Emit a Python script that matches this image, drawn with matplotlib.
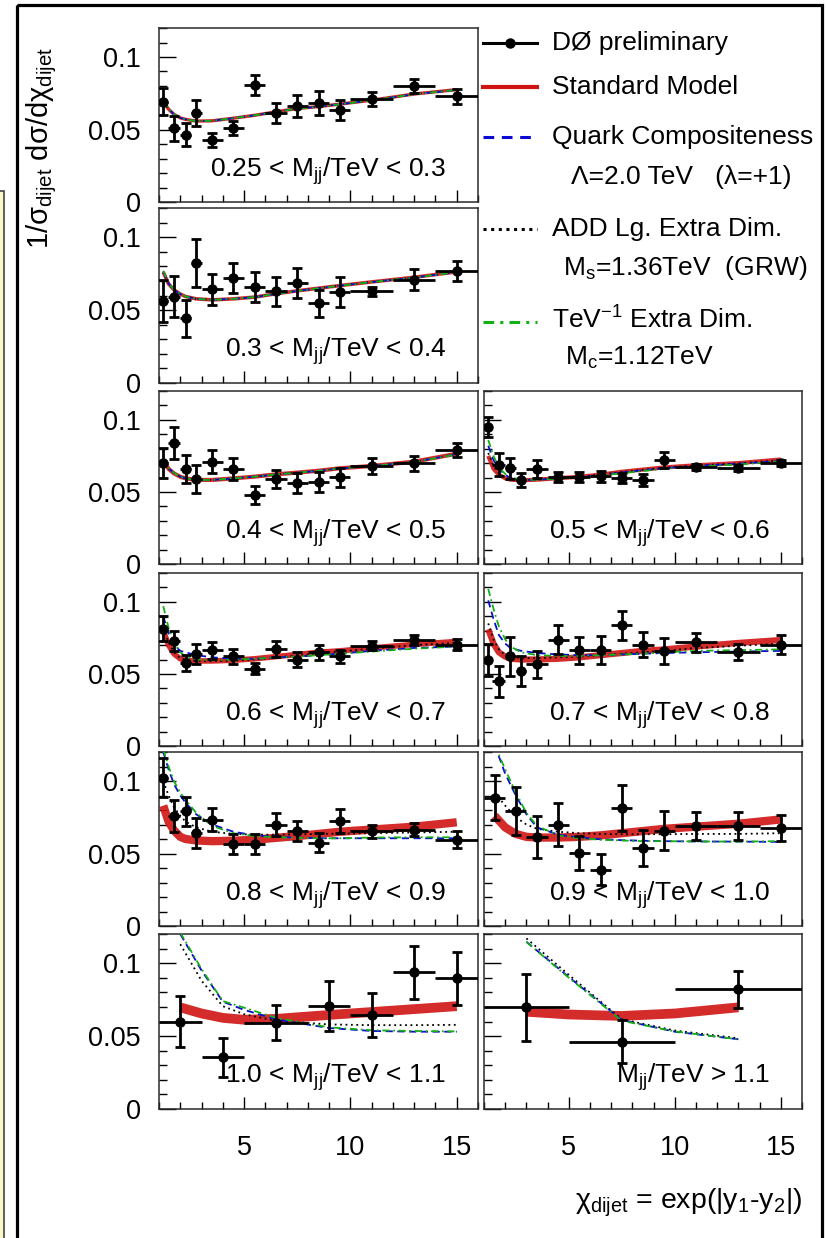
import matplotlib
matplotlib.use("Agg")
import matplotlib.pyplot as plt
from matplotlib.patches import Rectangle
from matplotlib.ticker import MultipleLocator, FixedLocator

plt.rcParams['font.family'] = ['Liberation Sans', 'DejaVu Sans']
plt.rcParams['mathtext.fontset'] = 'custom'
plt.rcParams['mathtext.rm'] = 'Liberation Sans'
plt.rcParams['mathtext.it'] = 'Liberation Sans:italic'
plt.rcParams['mathtext.bf'] = 'Liberation Sans:bold'
plt.rcParams['mathtext.default'] = 'regular'

FS_TICK = 19.5
FS_TEXT = 19

# ---- mass bins (one panel each, left column then right column, row by row)
MASS_LABELS = [
    "0.25 < M$_{jj}$/TeV < 0.3",
    "0.3 < M$_{jj}$/TeV < 0.4",
    "0.4 < M$_{jj}$/TeV < 0.5",
    "0.5 < M$_{jj}$/TeV < 0.6",
    "0.6 < M$_{jj}$/TeV < 0.7",
    "0.7 < M$_{jj}$/TeV < 0.8",
    "0.8 < M$_{jj}$/TeV < 0.9",
    "0.9 < M$_{jj}$/TeV < 1.0",
    "1.0 < M$_{jj}$/TeV < 1.1",
    "M$_{jj}$/TeV > 1.1",
]

# ---- chi_dijet bin edges
EDGES_FINE = [1, 1.4, 2, 2.5, 3, 4, 5, 6, 7, 8, 9, 10, 12, 14, 16]
EDGES_UNIT = [1, 2, 3, 4, 5, 6, 7, 8, 9, 10, 12, 14, 16]
EDGES_WIDE = [1, 3, 5, 8, 10, 12, 14, 16]
EDGES_LAST = [1, 5, 10, 16]

# ---- measured 1/sigma dsigma/dchi and its errors
DATA_Y = [
    [0.0693, 0.0509, 0.0463, 0.0613, 0.0429, 0.0509, 0.0809, 0.0613, 0.0663, 0.0682, 0.0636, 0.0710, 0.0802, 0.0728],
    [0.0559, 0.0593, 0.0444, 0.0823, 0.0644, 0.0720, 0.0658, 0.0628, 0.0686, 0.0548, 0.0621, 0.0628, 0.0708, 0.0770],
    [0.0703, 0.0841, 0.0657, 0.0588, 0.0710, 0.0657, 0.0479, 0.0588, 0.0560, 0.0571, 0.0601, 0.0680, 0.0698, 0.0790],
    [0.0952, 0.0687, 0.0663, 0.0583, 0.0657, 0.0601, 0.0601, 0.0610, 0.0594, 0.0583, 0.0721, 0.0671, 0.0664, 0.0703],
    [0.0813, 0.0727, 0.0575, 0.0640, 0.0663, 0.0621, 0.0536, 0.0674, 0.0598, 0.0651, 0.0621, 0.0697, 0.0737, 0.0704],
    [0.0598, 0.0450, 0.0621, 0.0520, 0.0566, 0.0737, 0.0663, 0.0667, 0.0836, 0.0704, 0.0658, 0.0720, 0.0651, 0.0704],
    [0.1023, 0.0757, 0.0792, 0.0642, 0.0734, 0.0566, 0.0566, 0.0700, 0.0658, 0.0573, 0.0723, 0.0654, 0.0665, 0.0596],
    [0.0885, 0.0792, 0.0612, 0.0700, 0.0503, 0.0388, 0.0815, 0.0538, 0.0658, 0.0688, 0.0688, 0.0676],
    [0.0599, 0.0354, 0.0592, 0.0706, 0.0645, 0.0937, 0.0896],
    [0.0697, 0.0462, 0.0821],
]
DATA_ERR = [
    [0.0096, 0.0086, 0.0080, 0.0088, 0.0050, 0.0050, 0.0070, 0.0070, 0.0077, 0.0084, 0.0070, 0.0050, 0.0048, 0.0054],
    [0.0144, 0.0142, 0.0126, 0.0167, 0.0106, 0.0101, 0.0103, 0.0100, 0.0103, 0.0092, 0.0103, 0.0030, 0.0072, 0.0070],
    [0.0104, 0.0110, 0.0098, 0.0096, 0.0078, 0.0075, 0.0060, 0.0063, 0.0070, 0.0070, 0.0067, 0.0058, 0.0052, 0.0050],
    [0.0070, 0.0080, 0.0073, 0.0050, 0.0063, 0.0035, 0.0035, 0.0038, 0.0035, 0.0040, 0.0058, 0.0020, 0.0020, 0.0020],
    [0.0087, 0.0070, 0.0058, 0.0069, 0.0060, 0.0053, 0.0040, 0.0054, 0.0052, 0.0052, 0.0048, 0.0030, 0.0035, 0.0040],
    [0.0110, 0.0107, 0.0135, 0.0104, 0.0092, 0.0100, 0.0096, 0.0095, 0.0098, 0.0089, 0.0090, 0.0067, 0.0055, 0.0069],
    [0.0133, 0.0112, 0.0100, 0.0106, 0.0081, 0.0067, 0.0066, 0.0081, 0.0069, 0.0066, 0.0081, 0.0046, 0.0046, 0.0060],
    [0.0154, 0.0164, 0.0145, 0.0147, 0.0115, 0.0107, 0.0157, 0.0127, 0.0135, 0.0098, 0.0098, 0.0092],
    [0.0177, 0.0134, 0.0122, 0.0169, 0.0151, 0.0180, 0.0180],
    [0.0229, 0.0146, 0.0126],
]

# ---- theory curves: chi nodes and predictions
CHI_FINE = [1.2, 1.45, 1.7, 2.0, 2.25, 2.75, 3.5, 4.5, 5.5, 6.5, 7.5, 8.5, 9.5, 11, 13, 15]
CHI_UNIT = [1.5, 2.0, 2.5, 3.0, 3.5, 4.5, 5.5, 6.5, 7.5, 8.5, 9.5, 11, 13, 15]
CHI_WIDE = [2, 3, 4, 5, 6.5, 9, 11, 13, 15]
CHI_LAST = [3, 5, 7.5, 10, 13]

SM = [
    [0.0690, 0.0640, 0.0605, 0.0580, 0.0570, 0.0558, 0.0560, 0.0578, 0.0598, 0.0622, 0.0645, 0.0658, 0.0675, 0.0702, 0.0745, 0.0775],
    [0.0760, 0.0680, 0.0639, 0.0610, 0.0593, 0.0577, 0.0570, 0.0577, 0.0589, 0.0612, 0.0632, 0.0650, 0.0668, 0.0693, 0.0725, 0.0762],
    [0.0725, 0.0660, 0.0629, 0.0605, 0.0594, 0.0583, 0.0583, 0.0594, 0.0606, 0.0622, 0.0634, 0.0647, 0.0664, 0.0680, 0.0710, 0.0765],
    [0.0750, 0.0660, 0.0620, 0.0595, 0.0585, 0.0580, 0.0585, 0.0595, 0.0605, 0.0620, 0.0640, 0.0655, 0.0670, 0.0685, 0.0700, 0.0725],
    [0.0800, 0.0700, 0.0640, 0.0605, 0.0595, 0.0590, 0.0590, 0.0595, 0.0605, 0.0620, 0.0635, 0.0650, 0.0660, 0.0680, 0.0705, 0.0725],
    [0.0810, 0.0710, 0.0650, 0.0620, 0.0605, 0.0600, 0.0600, 0.0605, 0.0615, 0.0630, 0.0645, 0.0660, 0.0670, 0.0690, 0.0715, 0.0735],
    [0.0830, 0.0720, 0.0660, 0.0615, 0.0600, 0.0590, 0.0585, 0.0588, 0.0595, 0.0608, 0.0620, 0.0635, 0.0650, 0.0665, 0.0685, 0.0715],
    [0.0760, 0.0680, 0.0635, 0.0615, 0.0610, 0.0610, 0.0615, 0.0625, 0.0640, 0.0655, 0.0670, 0.0685, 0.0705, 0.0735],
    [0.0697, 0.0655, 0.0625, 0.0612, 0.0618, 0.0645, 0.0665, 0.0685, 0.0705],
    [0.0667, 0.0648, 0.0638, 0.0655, 0.0697],
]
QC = [
    [0.0692, 0.0642, 0.0606, 0.0580, 0.0570, 0.0558, 0.0560, 0.0578, 0.0598, 0.0622, 0.0644, 0.0657, 0.0674, 0.0701, 0.0743, 0.0773],
    [0.0765, 0.0682, 0.0640, 0.0610, 0.0593, 0.0577, 0.0570, 0.0577, 0.0589, 0.0611, 0.0631, 0.0649, 0.0667, 0.0692, 0.0723, 0.0760],
    [0.0730, 0.0664, 0.0631, 0.0606, 0.0594, 0.0583, 0.0583, 0.0594, 0.0606, 0.0621, 0.0633, 0.0646, 0.0663, 0.0679, 0.0708, 0.0762],
    [0.0820, 0.0720, 0.0660, 0.0620, 0.0595, 0.0583, 0.0585, 0.0593, 0.0603, 0.0617, 0.0635, 0.0650, 0.0665, 0.0680, 0.0695, 0.0715],
    [0.0900, 0.0780, 0.0700, 0.0660, 0.0650, 0.0630, 0.0615, 0.0605, 0.0605, 0.0615, 0.0620, 0.0630, 0.0640, 0.0660, 0.0680, 0.0690],
    [0.1010, 0.0880, 0.0770, 0.0710, 0.0680, 0.0660, 0.0645, 0.0635, 0.0630, 0.0630, 0.0635, 0.0640, 0.0645, 0.0650, 0.0655, 0.0660],
    [0.1200, 0.1080, 0.0980, 0.0900, 0.0850, 0.0770, 0.0700, 0.0650, 0.0625, 0.0615, 0.0610, 0.0605, 0.0605, 0.0605, 0.0605, 0.0605],
    [0.1250, 0.1050, 0.0900, 0.0770, 0.0680, 0.0630, 0.0610, 0.0598, 0.0592, 0.0588, 0.0585, 0.0583, 0.0582, 0.0580],
    [0.1200, 0.0950, 0.0736, 0.0680, 0.0615, 0.0555, 0.0535, 0.0530, 0.0530],
    [0.1147, 0.0905, 0.0610, 0.0530, 0.0478],
]
ADD = [
    [0.0691, 0.0641, 0.0605, 0.0580, 0.0570, 0.0558, 0.0560, 0.0578, 0.0598, 0.0622, 0.0645, 0.0658, 0.0675, 0.0702, 0.0744, 0.0774],
    [0.0762, 0.0681, 0.0639, 0.0610, 0.0593, 0.0577, 0.0570, 0.0577, 0.0589, 0.0612, 0.0632, 0.0650, 0.0668, 0.0693, 0.0724, 0.0761],
    [0.0727, 0.0662, 0.0630, 0.0605, 0.0594, 0.0583, 0.0583, 0.0594, 0.0606, 0.0622, 0.0634, 0.0647, 0.0664, 0.0680, 0.0709, 0.0763],
    [0.0770, 0.0680, 0.0630, 0.0600, 0.0590, 0.0582, 0.0585, 0.0595, 0.0605, 0.0620, 0.0638, 0.0653, 0.0668, 0.0683, 0.0698, 0.0720],
    [0.0820, 0.0720, 0.0650, 0.0610, 0.0598, 0.0590, 0.0588, 0.0592, 0.0600, 0.0613, 0.0628, 0.0642, 0.0655, 0.0675, 0.0700, 0.0715],
    [0.0850, 0.0740, 0.0670, 0.0630, 0.0620, 0.0610, 0.0610, 0.0615, 0.0620, 0.0630, 0.0640, 0.0650, 0.0660, 0.0680, 0.0695, 0.0710],
    [0.1000, 0.0900, 0.0820, 0.0760, 0.0720, 0.0680, 0.0650, 0.0635, 0.0630, 0.0630, 0.0632, 0.0635, 0.0637, 0.0640, 0.0645, 0.0650],
    [0.0920, 0.0830, 0.0750, 0.0700, 0.0670, 0.0650, 0.0640, 0.0635, 0.0633, 0.0633, 0.0633, 0.0635, 0.0635, 0.0640],
    [0.1130, 0.0880, 0.0705, 0.0650, 0.0605, 0.0580, 0.0575, 0.0575, 0.0577],
    [0.1170, 0.0920, 0.0615, 0.0538, 0.0485],
]
TEV = [
    [0.0695, 0.0643, 0.0606, 0.0580, 0.0570, 0.0558, 0.0560, 0.0578, 0.0598, 0.0621, 0.0644, 0.0657, 0.0674, 0.0701, 0.0743, 0.0773],
    [0.0770, 0.0684, 0.0641, 0.0611, 0.0593, 0.0577, 0.0570, 0.0577, 0.0589, 0.0611, 0.0631, 0.0649, 0.0667, 0.0692, 0.0723, 0.0760],
    [0.0735, 0.0667, 0.0632, 0.0606, 0.0594, 0.0583, 0.0583, 0.0594, 0.0606, 0.0621, 0.0633, 0.0646, 0.0663, 0.0679, 0.0708, 0.0760],
    [0.0860, 0.0750, 0.0670, 0.0625, 0.0600, 0.0585, 0.0585, 0.0592, 0.0600, 0.0613, 0.0630, 0.0645, 0.0660, 0.0675, 0.0690, 0.0710],
    [0.0970, 0.0820, 0.0720, 0.0650, 0.0620, 0.0600, 0.0595, 0.0600, 0.0605, 0.0615, 0.0620, 0.0630, 0.0640, 0.0655, 0.0675, 0.0690],
    [0.1090, 0.0950, 0.0830, 0.0740, 0.0690, 0.0650, 0.0630, 0.0625, 0.0625, 0.0630, 0.0635, 0.0640, 0.0650, 0.0660, 0.0665, 0.0670],
    [0.1220, 0.1100, 0.1000, 0.0920, 0.0870, 0.0780, 0.0690, 0.0640, 0.0620, 0.0612, 0.0608, 0.0605, 0.0605, 0.0610, 0.0612, 0.0612],
    [0.1250, 0.1080, 0.0920, 0.0780, 0.0690, 0.0625, 0.0605, 0.0595, 0.0590, 0.0585, 0.0585, 0.0583, 0.0582, 0.0585],
    [0.1210, 0.0960, 0.0740, 0.0695, 0.0625, 0.0560, 0.0540, 0.0535, 0.0532],
    [0.1145, 0.0900, 0.0605, 0.0532, 0.0478],
]

PANEL_EDGES = [EDGES_FINE] * 7 + [EDGES_UNIT, EDGES_WIDE, EDGES_LAST]
PANEL_CHI = [CHI_FINE] * 7 + [CHI_UNIT, CHI_WIDE, CHI_LAST]

# panel boxes in pixels: (left, top, right, bottom)
COL_X = {0: (159, 478), 1: (484, 802)}
ROW_Y = [(28, 202), (208, 383), (391, 564), (573, 746), (752, 926), (934, 1109)]
PANEL_POS = [(0, 0), (1, 0), (2, 0), (2, 1), (3, 0), (3, 1), (4, 0), (4, 1), (5, 0), (5, 1)]
SM_WIDTH = [2.4, 2.6, 3.0, 3.0, 4.0, 4.5, 6.0, 6.0, 7.0, 7.0]

W, H = 827, 1238
RED = '#d01414'
BLUE = '#0a0ad2'
GREEN = '#12b012'

fig = plt.figure(figsize=(W / 100, H / 100), dpi=100)

# page decorations + legend live on a full-figure pixel axes
ov = fig.add_axes([0, 0, 1, 1])
ov.set_xlim(0, W)
ov.set_ylim(H, 0)
ov.axis('off')
ov.add_patch(Rectangle((-20, 191), 23.5, 1100, facecolor='#fbf8c8', edgecolor='#444444',
                       lw=1.2, clip_on=False))
ov.add_patch(Rectangle((17, 5), 805, 1260, fill=False, edgecolor='black', lw=2.3, clip_on=False))

for i, label in enumerate(MASS_LABELS):
    row, col = PANEL_POS[i]
    x0, x1 = COL_X[col]
    y0, y1 = ROW_Y[row]
    ax = fig.add_axes([x0 / W, 1 - y1 / H, (x1 - x0) / W, (y1 - y0) / H])

    edges = PANEL_EDGES[i]
    centers = [(a + b) / 2 for a, b in zip(edges[:-1], edges[1:])]
    halfw = [(b - a) / 2 for a, b in zip(edges[:-1], edges[1:])]
    chi = PANEL_CHI[i]

    ax.plot(chi, SM[i], color=RED, lw=SM_WIDTH[i], alpha=0.9, solid_capstyle='butt', zorder=2)
    ax.plot(chi, ADD[i], color='black', lw=1.3, ls=(0, (1, 2)), zorder=3)
    ax.plot(chi, QC[i], color=BLUE, lw=1.3, ls=(0, (4, 2.5)), zorder=3)
    ax.plot(chi, TEV[i], color=GREEN, lw=1.3, ls=(0, (4, 2, 1, 2)), zorder=3)

    ax.errorbar(centers, DATA_Y[i], xerr=halfw, fmt='none', ecolor='black',
                elinewidth=2.0, capsize=0, zorder=4)
    ax.errorbar(centers, DATA_Y[i], yerr=DATA_ERR[i], fmt='o', color='black', ms=6.5,
                elinewidth=2.0, capsize=3.8, capthick=2.0, zorder=5)

    ax.text(0.9, 0.18, label, transform=ax.transAxes, ha='right', va='center', fontsize=FS_TEXT)

    ax.set_xlim(1, 16)
    ax.set_ylim(0, 0.12)
    ax.xaxis.set_major_locator(FixedLocator([5, 10, 15]))
    ax.xaxis.set_minor_locator(MultipleLocator(1))
    ax.yaxis.set_major_locator(FixedLocator([0, 0.05, 0.1]))
    ax.yaxis.set_minor_locator(MultipleLocator(0.01))
    ax.tick_params(axis='y', which='major', direction='in', length=12, width=1.0,
                   pad=13, labelsize=FS_TICK, right=False)
    ax.tick_params(axis='y', which='minor', direction='in', length=6, width=1.0, right=False)
    ax.tick_params(axis='x', which='major', direction='in', length=9, width=1.0,
                   pad=19, labelsize=FS_TICK, top=False)
    ax.tick_params(axis='x', which='minor', direction='in', length=5, width=1.0, top=False)
    for sp in ax.spines.values():
        sp.set_linewidth(1.1)
        sp.set_color('#2a2a2a')

    if col == 0:
        ax.set_yticklabels(['0', '0.05', '0.1'])
    else:
        ax.set_yticklabels([])
    if row == 5:
        ax.set_xticklabels(['5', '10', '15'])
    else:
        ax.set_xticklabels([])

# axis titles
fig.text(42 / W, 1 - 148 / H, "1/σ$_{dijet}$ dσ/dχ$_{dijet}$", rotation=90,
         ha='center', va='center', fontsize=21)
fig.text(802 / W, 1 - 1203 / H, "χ$_{dijet}$ = exp(|y$_{1}$-y$_{2}$|)",
         ha='right', va='center', fontsize=20.5)

# legend keys and entries
KEY_X = [483, 537]
ov.plot(KEY_X, [43, 43], color='black', lw=2.2)
ov.plot([510], [43], 'o', color='black', ms=6.5)
ov.plot(KEY_X, [87, 87], color=RED, lw=3)
ov.plot(KEY_X, [137, 137], color=BLUE, lw=2.2, ls=(0, (3.5, 2.5)))
ov.plot(KEY_X, [229, 229], color='black', lw=2.2, ls=(0, (1, 1.5)))
ov.plot(KEY_X, [322, 322], color=GREEN, lw=2.2, ls=(0, (3.5, 2, 1, 2)))

LEGEND_ROWS = [
    (552, 43, "DØ preliminary"),
    (552, 87, "Standard Model"),
    (552, 137, "Quark Compositeness"),
    (571, 177, "Λ=2.0 TeV   (λ=+1)"),
    (552, 229, "ADD Lg. Extra Dim."),
    (563, 268, "M$_{s}$=1.36TeV  (GRW)"),
    (552, 320, "TeV$^{-1}$ Extra Dim."),
    (565, 358, "M$_{c}$=1.12TeV"),
]
for tx, ty, txt in LEGEND_ROWS:
    ov.text(tx, ty, txt, ha='left', va='center', fontsize=FS_TEXT)

fig.savefig("out.png", dpi=100)
